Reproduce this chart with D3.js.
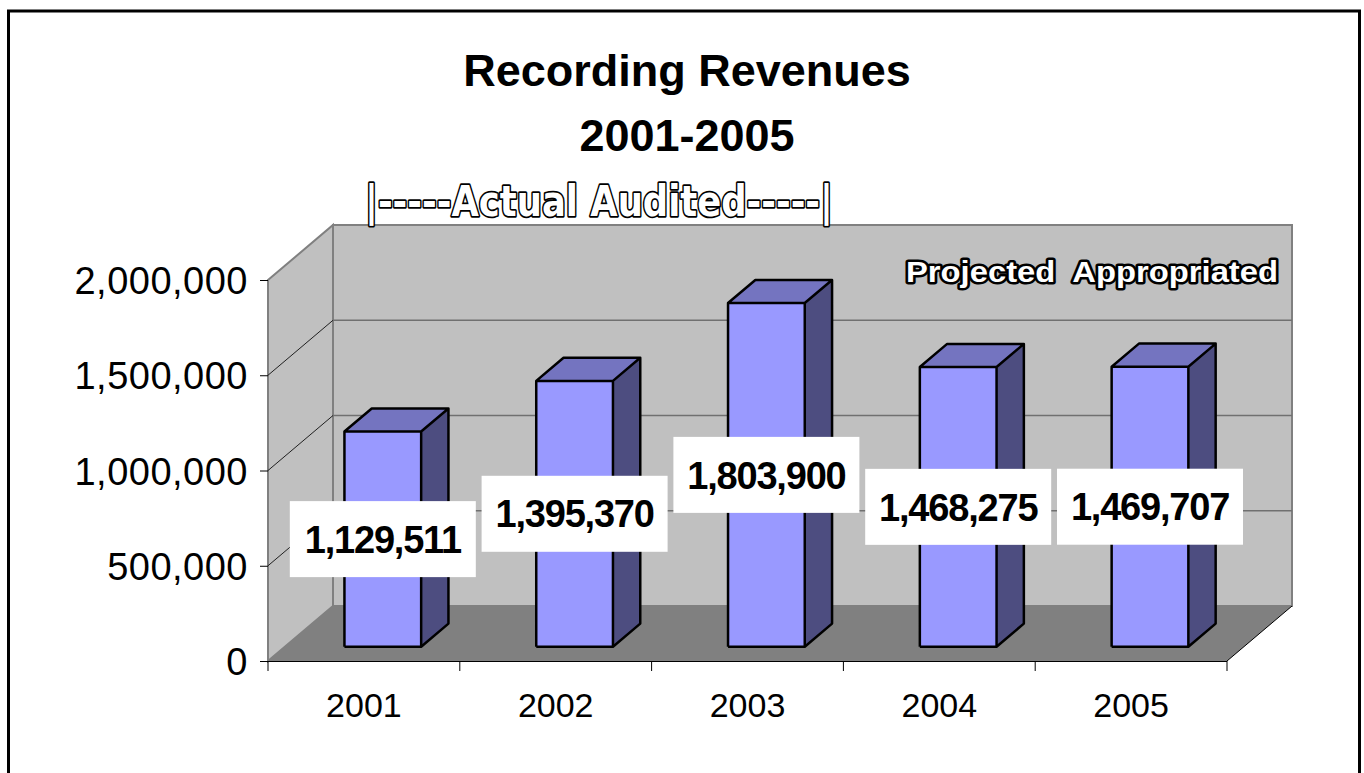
<!DOCTYPE html>
<html>
<head>
<meta charset="utf-8">
<script src="https://cdn.jsdelivr.net/npm/d3@7"></script>
<style>
    html, body { margin: 0; padding: 0; background: #fff; }
    svg { display: block; }
</style>
</head>
<body>
<div id="chart"></div>
<script>
'use strict';

var years = ["2001", "2002", "2003", "2004", "2005"];
var revenues = [1129511, 1395370, 1803900, 1468275, 1469707];
var yTicks = [0, 500000, 1000000, 1500000, 2000000];
var titleLines = ["Recording Revenues", "2001-2005"];
var actualNote = "|-----Actual Audited-----|";
var projectedNote = "Projected  Appropriated";

var drawChart = function () {
    var width = 1364;
    var height = 773;

    // front plane of the 3d box and the depth offset of the back wall
    var left = 268, right = 1227, top = 280, bottom = 661;
    var depthX = 65, depthY = -55;
    var barFront = 0.26, barBack = 0.68;

    var svg = d3.select("#chart")
        .append("svg")
        .attr("width", width)
        .attr("height", height);

    var x = d3.scaleBand()
        .domain(years)
        .range([left, right])
        .padding(0);

    var y = d3.scaleLinear()
        .domain([0, 2000000])
        .range([bottom, top]);

    var pt = function (px, value, depth) {
        return [px + depth * depthX, y(value) + depth * depthY];
    };

    var poly = function (points) {
        return points.map(function (p) { return p[0] + "," + p[1]; }).join(" ");
    };

    // outer frame
    svg.append("rect")
        .attr("x", 8.5)
        .attr("y", 11)
        .attr("width", 1351)
        .attr("height", 800)
        .style("fill", "none")
        .style("stroke", "#000")
        .style("stroke-width", 3);

    // back wall
    svg.append("polygon")
        .attr("points", poly([pt(left, 2000000, 1), pt(right, 2000000, 1), pt(right, 0, 1), pt(left, 0, 1)]))
        .style("fill", "#c0c0c0")
        .style("stroke", "#808080")
        .style("stroke-width", 2);

    // side wall
    svg.append("polygon")
        .attr("points", poly([pt(left, 2000000, 0), pt(left, 2000000, 1), pt(left, 0, 1), pt(left, 0, 0)]))
        .style("fill", "#c0c0c0")
        .style("stroke", "#808080")
        .style("stroke-width", 2);

    // gridlines on back wall and side wall
    var grid = yTicks.filter(function (d) { return d > 0 && d < 2000000; });
    svg.selectAll("line.grid-back")
        .data(grid)
        .enter()
        .append("line")
        .attr("class", "grid-back")
        .attr("x1", function (d) { return pt(left, d, 1)[0]; })
        .attr("y1", function (d) { return pt(left, d, 1)[1]; })
        .attr("x2", function (d) { return pt(right, d, 1)[0]; })
        .attr("y2", function (d) { return pt(right, d, 1)[1]; })
        .style("stroke", "#707070")
        .style("stroke-width", 1.5);

    svg.selectAll("line.grid-side")
        .data(grid)
        .enter()
        .append("line")
        .attr("class", "grid-side")
        .attr("x1", function (d) { return pt(left, d, 0)[0]; })
        .attr("y1", function (d) { return pt(left, d, 0)[1]; })
        .attr("x2", function (d) { return pt(left, d, 1)[0]; })
        .attr("y2", function (d) { return pt(left, d, 1)[1]; })
        .style("stroke", "#202020")
        .style("stroke-width", 1);

    // floor
    svg.append("polygon")
        .attr("points", poly([pt(left, 0, 0), pt(left, 0, 1), pt(right, 0, 1), pt(right, 0, 0)]))
        .style("fill", "#808080");

    svg.append("line")
        .attr("x1", pt(right, 0, 0)[0])
        .attr("y1", pt(right, 0, 0)[1])
        .attr("x2", pt(right, 0, 1)[0])
        .attr("y2", pt(right, 0, 1)[1])
        .style("stroke", "#000")
        .style("stroke-width", 1);

    // axes
    var yAxis = d3.axisLeft(y)
        .tickValues(yTicks)
        .tickSize(8)
        .tickFormat(d3.format(","));

    var gy = svg.append("g")
        .attr("transform", "translate(" + left + ",0)")
        .call(yAxis);
    gy.select(".domain").remove();
    gy.selectAll("line").style("stroke", "#000");
    gy.selectAll("text")
        .attr("x", -20)
        .attr("dy", "0.36em")
        .style("font-family", "'Liberation Sans', Arial, sans-serif")
        .style("font-size", "38px")
        .style("letter-spacing", "0.5px")
        .style("fill", "#000");

    var xAxis = d3.axisBottom(x)
        .tickSize(0)
        .tickSizeOuter(0);

    var gx = svg.append("g")
        .attr("transform", "translate(0," + bottom + ")")
        .call(xAxis);
    gx.select(".domain")
        .attr("d", "M" + (left - 8) + ",0.5H" + right)
        .style("stroke", "#000");
    gx.selectAll("text")
        .attr("y", 56)
        .attr("dy", 0)
        .style("font-family", "'Liberation Sans', Arial, sans-serif")
        .style("font-size", "34px")
        .style("fill", "#000");

    // tick marks between categories
    var boundaries = years.map(function (d) { return x(d); }).concat([right]);
    gx.selectAll("line.sep")
        .data(boundaries)
        .enter()
        .append("line")
        .attr("class", "sep")
        .attr("x1", function (d) { return d; })
        .attr("x2", function (d) { return d; })
        .attr("y1", 0)
        .attr("y2", 10)
        .style("stroke", "#000");

    // 3d bars
    var barW = x.bandwidth() * 0.4;
    var bars = svg.selectAll("g.bar")
        .data(revenues)
        .enter()
        .append("g")
        .attr("class", "bar");

    var x0 = function (d, i) { return x(years[i]) + (x.bandwidth() - barW) / 2 + 2; };

    bars.append("polygon")
        .attr("points", function (d, i) {
            var a = x0(d, i), b = a + barW;
            return poly([pt(b, d, barFront), pt(b, d, barBack), pt(b, 0, barBack), pt(b, 0, barFront)]);
        })
        .style("fill", "#4d4d80");

    bars.append("polygon")
        .attr("points", function (d, i) {
            var a = x0(d, i), b = a + barW;
            return poly([pt(a, d, barFront), pt(a, d, barBack), pt(b, d, barBack), pt(b, d, barFront)]);
        })
        .style("fill", "#7474c0");

    bars.append("polygon")
        .attr("points", function (d, i) {
            var a = x0(d, i), b = a + barW;
            return poly([pt(a, d, barFront), pt(b, d, barFront), pt(b, 0, barFront), pt(a, 0, barFront)]);
        })
        .style("fill", "#9999ff");

    bars.append("path")
        .attr("d", function (d, i) {
            var a = x0(d, i), b = a + barW;
            var p = [pt(a, 0, barFront), pt(a, d, barFront), pt(a, d, barBack), pt(b, d, barBack),
                     pt(b, 0, barBack), pt(b, 0, barFront), pt(a, 0, barFront)];
            return "M" + p.join("L") + "M" + pt(a, d, barFront) + "L" + pt(b, d, barFront) +
                "L" + pt(b, d, barBack) + "M" + pt(b, d, barFront) + "L" + pt(b, 0, barFront);
        })
        .style("fill", "none")
        .style("stroke", "#000")
        .style("stroke-width", 2.5)
        .style("stroke-linejoin", "round");

    // data labels
    var labels = svg.selectAll("g.label")
        .data(revenues)
        .enter()
        .append("g")
        .attr("class", "label")
        .attr("transform", function (d, i) {
            var cx = pt(x0(d, i) + barW / 2, 0, barFront)[0];
            var cy = (pt(0, d, barFront)[1] + pt(0, 0, barFront)[1]) / 2;
            return "translate(" + cx + "," + cy + ")";
        });

    labels.append("rect")
        .attr("x", -93)
        .attr("y", -38)
        .attr("width", 186)
        .attr("height", 76)
        .style("fill", "#fff");

    labels.append("text")
        .text(function (d) { return d3.format(",")(d); })
        .attr("text-anchor", "middle")
        .attr("dy", "0.36em")
        .style("font-family", "'Liberation Sans', Arial, sans-serif")
        .style("font-weight", "bold")
        .style("font-size", "38px")
        .style("letter-spacing", "-1.2px")
        .style("fill", "#000");

    // title
    svg.selectAll("text.title")
        .data(titleLines)
        .enter()
        .append("text")
        .attr("class", "title")
        .text(function (d) { return d; })
        .attr("x", 687)
        .attr("y", function (d, i) { return 86 + i * 65; })
        .attr("text-anchor", "middle")
        .style("font-family", "'Liberation Sans', Arial, sans-serif")
        .style("font-weight", "bold")
        .style("font-size", "45px")
        .style("fill", "#000");

    // outlined notes
    svg.append("text")
        .text(actualNote)
        .attr("x", 365)
        .attr("y", 216)
        .attr("textLength", 468)
        .attr("lengthAdjust", "spacingAndGlyphs")
        .style("font-family", "'DejaVu Sans', sans-serif")
        .style("font-weight", "bold")
        .style("font-size", "42px")
        .style("fill", "#fff")
        .style("stroke", "#000")
        .style("stroke-width", 3.5)
        .style("stroke-linejoin", "round")
        .style("paint-order", "stroke");

    svg.append("text")
        .text(projectedNote)
        .attr("x", 906)
        .attr("y", 282)
        .attr("textLength", 372)
        .attr("lengthAdjust", "spacingAndGlyphs")
        .style("white-space", "pre")
        .style("font-family", "'Liberation Sans', Arial, sans-serif")
        .style("font-weight", "bold")
        .style("font-size", "30px")
        .style("fill", "#fff")
        .style("stroke", "#000")
        .style("stroke-width", 5)
        .style("stroke-linejoin", "round")
        .style("paint-order", "stroke");
};

drawChart();
</script>
</body>
</html>
